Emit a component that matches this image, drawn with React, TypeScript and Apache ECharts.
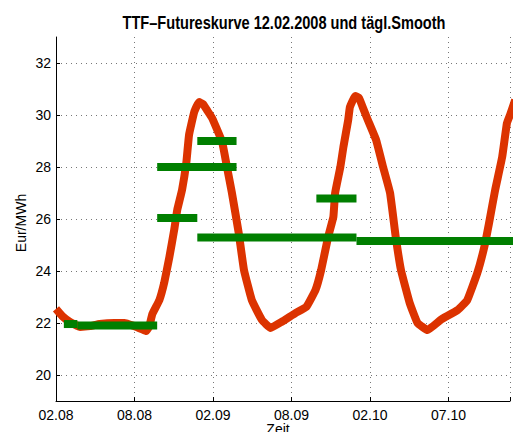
import React, { useEffect, useRef } from 'react';
import * as echarts from 'echarts';

// x: days since 12.02.2008
const xTickDays = [0, 180, 360, 540, 720, 900];
const xTickLabels = ['02.08', '08.08', '02.09', '08.09', '02.10', '07.10'];
const yTickValues = [20, 22, 24, 26, 28, 30, 32];

const curveDays = [0, 14, 32, 55, 78, 100, 134, 157, 180, 196, 207, 214, 221, 237, 248, 260, 271, 278, 289, 299, 305, 317, 328, 337, 346, 358, 381, 392, 403, 419, 431, 449, 472, 492, 517, 549, 574, 595, 608, 624, 636, 640, 652, 659, 670, 674, 686, 695, 704, 715, 734, 750, 766, 779, 791, 811, 829, 852, 882, 921, 943, 966, 982, 993, 1007, 1023, 1034, 1041, 1053];
const curveValues = [22.54, 22.27, 22.04, 21.85, 21.88, 21.96, 22.0, 22.0, 21.88, 21.77, 21.69, 21.88, 22.35, 22.88, 23.54, 24.54, 25.58, 26.35, 27.12, 28.19, 29.23, 30.12, 30.5, 30.42, 30.19, 29.88, 28.96, 28.0, 27.04, 25.46, 24.04, 22.88, 22.12, 21.81, 22.04, 22.38, 22.62, 23.27, 24.04, 25.31, 26.08, 27.0, 28.0, 28.77, 29.81, 30.31, 30.73, 30.65, 30.27, 29.81, 29.04, 28.0, 27.0, 25.31, 24.04, 22.77, 22.0, 21.73, 22.12, 22.5, 22.88, 23.92, 24.92, 25.85, 27.12, 28.38, 29.69, 30.0, 30.58];

const segStart = [18, 49, 232, 232, 324, 324, 597, 689];
const segEnd = [49, 232, 324, 414, 414, 689, 689, 1054];
const segValue = [21.96, 21.9, 26.04, 28.0, 29.0, 25.29, 26.79, 25.15];

export default function App() {
  const ref = useRef<HTMLDivElement>(null);
  useEffect(() => {
    if (!ref.current) return;
    const chart = echarts.init(ref.current, undefined, { renderer: 'svg' });
    const font = '"Liberation Sans", Arial, Helvetica, sans-serif';
    const gridLine = { show: true, lineStyle: { color: '#777', type: [1, 4] as any, width: 1 } };
    const series: any[] = [
      {
        type: 'line',
        data: curveDays.map((d, i) => [d, curveValues[i]]),
        symbol: 'none',
        smooth: 0.1,
        clip: true,
        lineStyle: { color: '#dc3300', width: 8, join: 'round' },
        z: 2,
      },
    ];
    segStart.forEach((s, i) => {
      series.push({
        type: 'line',
        data: [[s, segValue[i]], [segEnd[i], segValue[i]]],
        symbol: 'none',
        clip: true,
        lineStyle: { color: '#007f00', width: 8, cap: 'butt' },
        z: 3,
      });
    });
    chart.setOption({
      animation: false,
      backgroundColor: '#fff',
      grid: { left: 56, right: 0, top: 37, bottom: 31, containLabel: false },
      xAxis: {
        type: 'value',
        min: 0,
        max: 1041,
        interval: 180,
        axisLine: { show: true, lineStyle: { color: '#000', width: 1 } },
        axisTick: { show: true, inside: true, length: 4, lineStyle: { color: '#000' } },
        axisLabel: {
          color: '#000',
          fontSize: 14,
          fontFamily: font,
          margin: 7,
          formatter: (v: number) => {
            const k = xTickDays.indexOf(v);
            return k >= 0 ? xTickLabels[k] : '';
          },
        },
        splitLine: gridLine,
      },
      yAxis: {
        type: 'value',
        min: 19,
        max: 33,
        axisLine: { show: true, lineStyle: { color: '#000', width: 1 } },
        axisTick: { show: true, inside: true, length: 4, lineStyle: { color: '#000' }, customValues: yTickValues },
        axisLabel: { color: '#000', fontSize: 14, fontFamily: font, margin: 5, customValues: yTickValues },
        splitLine: gridLine,
      },
      graphic: [
        {
          type: 'text',
          x: 284,
          y: 22,
          scaleX: 0.81,
          style: {
            text: 'TTF–Futureskurve 12.02.2008 und tägl.Smooth',
            fontSize: 18,
            fontWeight: 'bold',
            fontFamily: font,
            fill: '#000',
            textAlign: 'center',
            textVerticalAlign: 'middle',
          },
        },
        {
          type: 'text',
          x: 278,
          y: 422,
          style: { text: 'Zeit', fontSize: 14, fontFamily: font, fill: '#000', textAlign: 'center', textVerticalAlign: 'top' },
        },
        {
          type: 'text',
          x: 21,
          y: 223,
          rotation: Math.PI / 2,
          style: { text: 'Eur/MWh', fontSize: 14, fontFamily: font, fill: '#000', textAlign: 'center', textVerticalAlign: 'middle' },
        },
      ],
      series,
    });
    return () => chart.dispose();
  }, []);
  return <div ref={ref} style={{ width: 513, height: 432, position: 'absolute', left: 0, top: 0 }} />;
}
